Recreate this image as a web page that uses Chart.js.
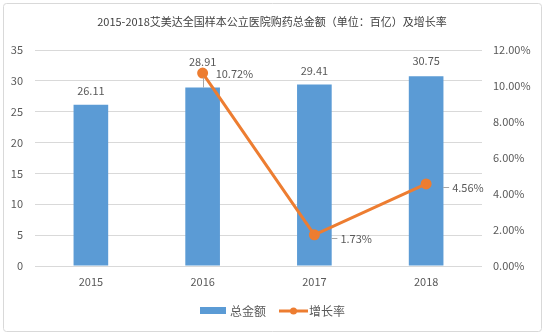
<!DOCTYPE html>
<html>
<head>
<meta charset="utf-8">
<script src="https://cdn.jsdelivr.net/npm/chart.js@4.4.1/dist/chart.umd.min.js"></script>
<style>
  html, body { margin: 0; padding: 0; background: #fff; }
  #wrap { width: 545px; height: 336px; position: relative; }
</style>
</head>
<body>
<div id="wrap"><canvas id="c" width="545" height="336"></canvas></div>
<script>
// Data
const years = ['2015', '2016', '2017', '2018'];
const totalAmount = [26.11, 28.91, 29.41, 30.75];      // 总金额（百亿）
const growthRate = [null, 10.72, 1.73, 4.56];          // 增长率（%）
const leftTicks = [0, 5, 10, 15, 20, 25, 30, 35];
const rightTicks = [0, 2, 4, 6, 8, 10, 12];

const titleText = '2015-2018艾美达全国样本公立医院购药总金额（单位：百亿）及增长率';
const seriesNames = ['总金额', '增长率'];

const FONT = '"Noto Sans CJK SC", "Noto Sans", sans-serif';
const TEXT = '#595959';
const BLUE = '#5B9BD5';
const ORANGE = '#ED7D31';
const GRID = '#D9D9D9';

// extra lift of a bar label above its bar (px), to keep it clear of the line
const barLabelLift = [14, 26, 14, 15];

const decor = {
  id: 'decor',
  beforeDraw(chart) {
    const ctx = chart.ctx;
    ctx.save();
    ctx.fillStyle = '#fff';
    ctx.fillRect(0, 0, chart.width, chart.height);
    ctx.strokeStyle = '#D9D9D9';
    ctx.lineWidth = 1;
    ctx.beginPath();
    ctx.roundRect(3.5, 3.5, 538, 328, 3);
    ctx.stroke();
    // title
    ctx.fillStyle = '#404040';
    ctx.font = '11px ' + FONT;
    ctx.textAlign = 'center';
    ctx.textBaseline = 'middle';
    ctx.fillText(titleText, 272, 22);
    ctx.restore();
  },
  afterDatasetsDraw(chart) {
    const ctx = chart.ctx;
    ctx.save();
    ctx.font = '11px ' + FONT;
    ctx.fillStyle = TEXT;
    ctx.textBaseline = 'middle';

    // bar value labels
    const barMeta = chart.getDatasetMeta(1);
    barMeta.data.forEach((bar, i) => {
      const lift = barLabelLift[i];
      ctx.textAlign = 'center';
      ctx.fillText(totalAmount[i].toFixed(2), bar.x, bar.y - lift);
      if (lift > 20) {
        ctx.strokeStyle = '#A6A6A6';
        ctx.lineWidth = 1;
        ctx.beginPath();
        ctx.moveTo(Math.round(bar.x) + 0.5, bar.y);
        ctx.lineTo(Math.round(bar.x) + 0.5, bar.y - 10);
        ctx.stroke();
      }
    });

    // growth-rate labels
    const lineMeta = chart.getDatasetMeta(0);
    lineMeta.data.forEach((pt, i) => {
      const v = growthRate[i];
      if (v === null || v === undefined) return;
      ctx.textAlign = 'left';
      const txt = v.toFixed(2) + '%';
      if (v > 8) {
        ctx.fillText(txt, pt.x + 13, pt.y + 1);
      } else {
        ctx.strokeStyle = '#A6A6A6';
        ctx.lineWidth = 1;
        ctx.beginPath();
        ctx.moveTo(pt.x + 17, Math.round(pt.y + 3) + 0.5);
        ctx.lineTo(pt.x + 23, Math.round(pt.y + 3) + 0.5);
        ctx.stroke();
        ctx.fillText(txt, pt.x + 26, pt.y + 4);
      }
    });

    // legend
    const ly = 311;
    ctx.fillStyle = BLUE;
    ctx.fillRect(200, ly - 4, 26, 7);
    ctx.fillStyle = TEXT;
    ctx.font = '12px ' + FONT;
    ctx.textAlign = 'left';
    ctx.fillText(seriesNames[0], 230, ly);
    ctx.strokeStyle = ORANGE;
    ctx.lineWidth = 3;
    ctx.beginPath();
    ctx.moveTo(279, ly);
    ctx.lineTo(308, ly);
    ctx.stroke();
    ctx.fillStyle = ORANGE;
    ctx.beginPath();
    ctx.arc(293.5, ly, 3.5, 0, Math.PI * 2);
    ctx.fill();
    ctx.fillStyle = TEXT;
    ctx.fillText(seriesNames[1], 309, ly);
    ctx.restore();
  }
};

new Chart(document.getElementById('c'), {
  data: {
    labels: years,
    datasets: [
      {
        type: 'line',
        label: seriesNames[1],
        data: growthRate,
        yAxisID: 'y1',
        borderColor: ORANGE,
        backgroundColor: ORANGE,
        borderWidth: 3,
        pointRadius: 4,
        pointBackgroundColor: ORANGE,
        pointBorderColor: ORANGE,
        tension: 0,
        order: 0
      },
      {
        type: 'bar',
        label: seriesNames[0],
        data: totalAmount,
        yAxisID: 'y',
        backgroundColor: BLUE,
        borderWidth: 0,
        categoryPercentage: 1,
        barPercentage: 0.31,
        order: 1
      }
    ]
  },
  options: {
    responsive: false,
    animation: false,
    devicePixelRatio: 1,
    layout: { padding: { top: 50, left: 3, right: 3, bottom: 0 } },
    plugins: {
      legend: { display: false },
      title: { display: false },
      tooltip: { enabled: false }
    },
    scales: {
      x: {
        grid: { display: false, drawTicks: false },
        border: { display: false },
        ticks: { color: TEXT, font: { family: FONT, size: 11 }, padding: 9 },
        afterFit(s) { s.height = 70; }
      },
      y: {
        position: 'left',
        min: 0, max: 35,
        afterBuildTicks(s) { s.ticks = leftTicks.map(v => ({ value: v })); },
        grid: { color: GRID, lineWidth: 1, drawTicks: false },
        border: { display: false },
        ticks: { color: TEXT, font: { family: FONT, size: 11 }, padding: 12 },
        afterFit(s) { s.width = 32; }
      },
      y1: {
        position: 'right',
        min: 0, max: 12,
        afterBuildTicks(s) { s.ticks = rightTicks.map(v => ({ value: v })); },
        grid: { display: false, drawTicks: false },
        border: { display: false },
        ticks: {
          color: TEXT, font: { family: FONT, size: 11 }, padding: 11,
          callback: v => v.toFixed(2) + '%'
        },
        afterFit(s) { s.width = 60; }
      }
    }
  },
  plugins: [decor]
});
</script>
</body>
</html>
